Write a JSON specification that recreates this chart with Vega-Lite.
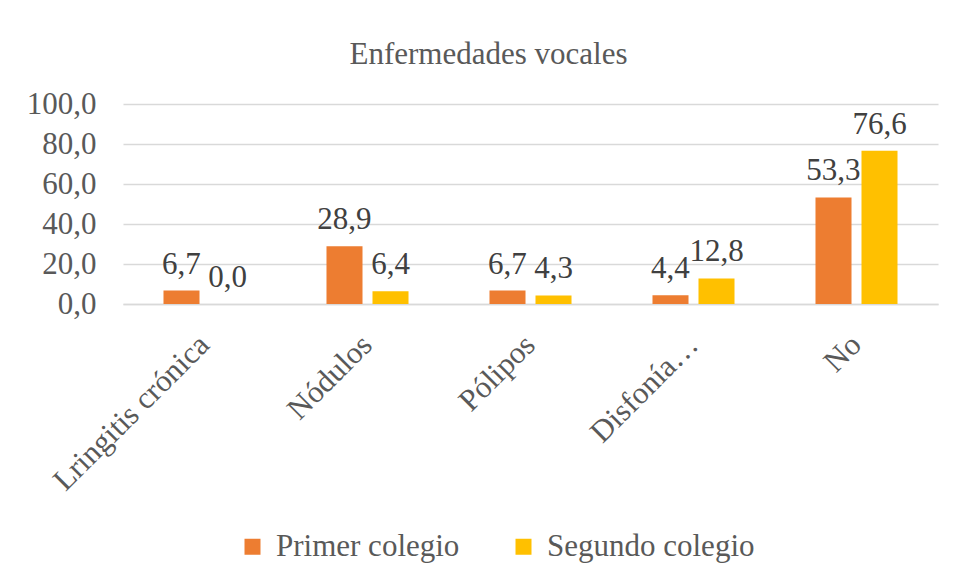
{
  "$schema": "https://vega.github.io/schema/vega-lite/v6.json",
  "width": 815,
  "height": 200,
  "autosize": {"type": "none"},
  "padding": {"left": 123, "top": 104, "right": 16, "bottom": 279},
  "config": {
    "locale": {"number": {"decimal": ",", "thousands": ".", "grouping": [3], "currency": ["", ""]}},
    "view": {"stroke": null},
    "font": "Liberation Serif",
    "style": {
      "guide-label": {"font": "Liberation Serif"},
      "guide-title": {"font": "Liberation Serif"},
      "group-title": {"font": "Liberation Serif"}
    },
    "title": {"font": "Liberation Serif"},
    "legend": {"labelFont": "Liberation Serif", "labelFontSize": 31, "labelColor": "#595959"},
    "axis": {"labelFont": "Liberation Serif"},
    "text": {"font": "Liberation Serif"}
  },
  "title": {
    "text": "Enfermedades vocales",
    "fontSize": 31,
    "font": "Liberation Serif",
    "fontWeight": "normal",
    "color": "#595959",
    "anchor": "middle",
    "baseline": "alphabetic",
    "dx": -42,
    "dy": 33,
    "offset": 26
  },
  "data": {
    "values": [
      {"enfermedad": "Lringitis crónica", "colegio": "Primer colegio", "valor": 6.7},
      {"enfermedad": "Lringitis crónica", "colegio": "Segundo colegio", "valor": 0.0},
      {"enfermedad": "Nódulos", "colegio": "Primer colegio", "valor": 28.9},
      {"enfermedad": "Nódulos", "colegio": "Segundo colegio", "valor": 6.4},
      {"enfermedad": "Pólipos", "colegio": "Primer colegio", "valor": 6.7},
      {"enfermedad": "Pólipos", "colegio": "Segundo colegio", "valor": 4.3},
      {"enfermedad": "Disfonía…", "colegio": "Primer colegio", "valor": 4.4},
      {"enfermedad": "Disfonía…", "colegio": "Segundo colegio", "valor": 12.8},
      {"enfermedad": "No", "colegio": "Primer colegio", "valor": 53.3},
      {"enfermedad": "No", "colegio": "Segundo colegio", "valor": 76.6}
    ]
  },
  "encoding": {
    "x": {
      "field": "enfermedad",
      "type": "nominal",
      "sort": null,
      "scale": {"paddingInner": 0, "paddingOuter": 0},
      "axis": {
        "title": null,
        "labelAngle": -45,
        "labelAlign": "right",
        "labelBaseline": "middle",
        "labelFont": "Liberation Serif",
        "labelFontSize": 31,
        "labelColor": "#595959",
        "labelPadding": 36,
        "labelDx": -3,
        "labelLimit": 400,
        "ticks": false,
        "domain": true,
        "domainColor": "#D9D9D9",
        "domainWidth": 1.5
      }
    },
    "xOffset": {
      "field": "colegio",
      "type": "nominal",
      "sort": null,
      "scale": {"paddingInner": 0.217, "paddingOuter": 0.88}
    },
    "y": {
      "field": "valor",
      "type": "quantitative",
      "scale": {"domain": [0, 100]},
      "axis": {
        "title": null,
        "values": [0, 20, 40, 60, 80, 100],
        "format": ".1f",
        "labelFont": "Liberation Serif",
        "labelFontSize": 31,
        "labelColor": "#595959",
        "labelPadding": 27,
        "ticks": false,
        "domain": false,
        "gridColor": "#D9D9D9",
        "gridWidth": 1.5
      }
    }
  },
  "layer": [
    {
      "mark": {"type": "bar"},
      "encoding": {
        "color": {
          "field": "colegio",
          "type": "nominal",
          "scale": {"domain": ["Primer colegio", "Segundo colegio"], "range": ["#ED7D31", "#FFC000"]},
          "legend": {
            "title": null,
            "orient": "none",
            "legendX": 114,
            "legendY": 427,
            "direction": "horizontal",
            "symbolType": "square",
            "symbolSize": 256,
            "symbolStrokeWidth": 0,
            "labelFont": "Liberation Serif",
            "labelFontSize": 31,
            "labelColor": "#595959",
            "labelOffset": 8,
            "columnPadding": 48,
            "labelLimit": 400
          }
        }
      }
    },
    {
      "mark": {"type": "text", "baseline": "alphabetic", "dy": -17, "fontSize": 31, "font": "Liberation Serif", "color": "#404040"},
      "encoding": {
        "text": {"field": "valor", "type": "quantitative", "format": ".1f"}
      }
    }
  ]
}
